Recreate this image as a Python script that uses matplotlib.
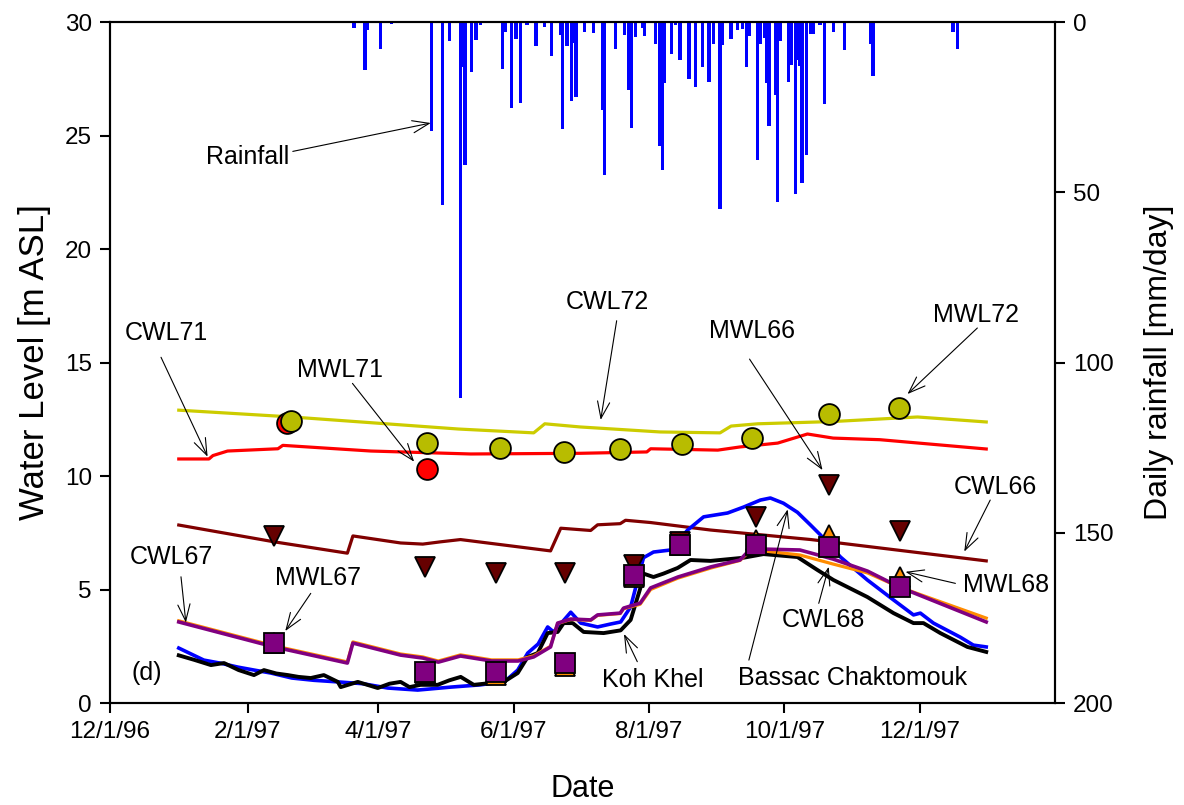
import numpy as np
import matplotlib
matplotlib.use('Agg')
import matplotlib.pyplot as plt
import matplotlib.dates as mdates
from datetime import datetime

plt.rcParams['font.family'] = ['Liberation Sans', 'DejaVu Sans']

# --- data (x as day of year 1997) ---
tick_dates = [datetime(1996, 12, 1), datetime(1997, 2, 1), datetime(1997, 4, 1),
              datetime(1997, 6, 1), datetime(1997, 8, 1), datetime(1997, 10, 1),
              datetime(1997, 12, 1)]
tick_labels = ['12/1/96', '2/1/97', '4/1/97', '6/1/97', '8/1/97', '10/1/97', '12/1/97']

rain_doy = [80, 85, 86, 92, 97, 115, 120, 123, 128, 129, 130, 133, 135, 137,
            147, 148, 151, 153, 155, 158, 162, 166, 169, 173, 174, 176, 178, 179, 180,
            184, 188, 192, 193, 198, 202, 204, 205, 207, 210, 211, 216, 218, 219, 220,
            223, 225, 227, 231, 234, 237, 240, 242, 245, 246, 250, 253, 255, 257, 258,
            262, 263, 265, 266, 267, 270, 271, 272, 276, 277, 279, 280, 281, 282, 284,
            286, 287, 290, 292, 296, 301, 313, 314, 350, 352]
rain = [1.7, 14.1, 2.3, 8.0, 0.6, 32, 53.7, 5.6, 110.3, 13.1, 42, 14.6, 5.3, 1,
        13.8, 2.8, 25.2, 5, 23.9, 1, 7, 1.5, 9.9, 3.8, 31.4, 7, 23.2, 6.2, 21.9,
        2.8, 3.2, 25.8, 45, 8, 3.8, 20, 31, 4.5, 1.7, 4, 6.6, 36.4, 43.5, 18,
        9.4, 1, 11.2, 16.8, 19, 13.1, 17.5, 6.4, 55, 6.9, 5, 2.4, 2, 13.1, 4,
        40.5, 6.6, 4.6, 18, 30.4, 21.4, 52.8, 5.5, 17.5, 12.5, 50.6, 11.3, 12.9, 47.4, 39,
        3.6, 3.5, 0.9, 24.2, 2.9, 8.2, 6.4, 16, 2.9, 8]

cwl72_doy = [1, 52, 127, 161, 166, 182, 218, 245, 250, 262, 296, 334, 365]
cwl72 = [12.9, 12.6, 12.07, 11.9, 12.3, 12.16, 11.94, 11.9, 12.2, 12.3, 12.4, 12.6, 12.38]

cwl71_doy = [1, 14.6, 16.4, 23, 45.7, 47.9, 87.6, 132.6, 182, 212, 213.7, 244, 254,
             271, 284.4, 296, 317, 365]
cwl71 = [10.75, 10.75, 10.9, 11.1, 11.2, 11.35, 11.1, 10.97, 11.0, 11.06, 11.2, 11.14, 11.28,
         11.45, 11.85, 11.67, 11.6, 11.19]

cwl66_doy = [1, 44, 77, 79.5, 101, 111, 119, 128, 168.6, 173.2, 186.7, 189.8, 200,
             202.4, 213.7, 240.7, 286, 365]
cwl66 = [7.84, 7.1, 6.6, 7.36, 7.05, 7.0, 7.1, 7.2, 6.7, 7.7, 7.6, 7.85, 7.9,
         8.05, 7.95, 7.62, 7.2, 6.26]

cwl67_doy = [1, 44, 77, 79.5, 101, 111, 118, 128, 142, 154, 161, 168.6, 171.8, 177.7,
             186.7, 189.8, 200, 201.5, 209, 213.7, 226, 241, 254, 257.4, 264.6, 281,
             296, 311.5, 326, 365]
cwl67 = [3.57, 2.47, 1.76, 2.64, 2.11, 1.98, 1.8, 2.07, 1.85, 1.85, 2.03, 2.47, 3.52, 3.7,
         3.66, 3.88, 3.96, 4.18, 4.4, 5.07, 5.55, 6.0, 6.3, 6.65, 6.78, 6.74,
         6.34, 5.81, 5.1, 3.57]

cwl68_doy = [1, 44, 77, 79.5, 101, 111, 118, 128, 142, 154, 161, 168.6, 171.8, 177.7,
             186.7, 189.8, 200, 201.5, 209, 213.7, 226, 241, 254, 257.4, 264.6, 281,
             296, 311.5, 326, 365]
cwl68 = [3.62, 2.52, 1.81, 2.69, 2.16, 2.03, 1.85, 2.12, 1.9, 1.9, 2.08, 2.5, 3.5, 3.68,
         3.64, 3.86, 3.94, 4.15, 4.35, 5.0, 5.5, 5.95, 6.28, 6.6, 6.7, 6.52,
         6.12, 5.73, 5.1, 3.74]

bassac_doy = [1, 12.3, 20, 27.7, 35, 42.5, 52, 61.9, 72.7, 84, 95.2, 108.7, 123.6, 137.1,
              148, 153.8, 158.3, 163, 167.3, 170, 177.7, 182.2, 189.8, 195.7, 200.2, 204.7,
              207.8, 210.5, 215, 222.7, 230.4, 237.6, 248.4, 255.6, 263.2, 267.7, 273.6,
              279.9, 285.8, 290.3, 299.3, 311.4, 323.2, 332.2, 335.3, 341.2, 353.3, 359.2, 365]
bassac = [2.42, 1.89, 1.75, 1.58, 1.45, 1.32, 1.1, 1.0, 0.93, 0.85, 0.66, 0.57, 0.7, 0.8,
          0.95, 1.45, 2.2, 2.6, 3.35, 3.13, 4.0, 3.52, 3.35, 3.48, 3.57, 4.23,
          5.4, 6.4, 6.65, 6.74, 7.62, 8.2, 8.37, 8.63, 8.94, 9.03, 8.8,
          8.4, 7.84, 7.4, 6.43, 5.42, 4.54, 3.88, 3.96, 3.52, 2.9, 2.55, 2.47]

kohkhel_doy = [1, 8, 15.5, 21.4, 28, 34.9, 39.4, 45, 50.2, 55, 60.5, 66.4, 72.7, 74, 81.7,
               86, 90.7, 96, 101, 105, 110, 117.7, 123, 128.1, 134, 141.6, 147.5, 153.8,
               158.3, 162.8, 167.3, 171.8, 174.5, 178.6, 183.5, 192.5, 200.2, 204.7, 209.2,
               210.5, 215, 219.5, 225.9, 231.7, 240.7, 255.6, 264.6, 279.9, 288.9, 296.1,
               311.4, 323.2, 332.2, 336.7, 344.3, 356.5, 365]
kohkhel = [2.1, 1.9, 1.67, 1.76, 1.45, 1.23, 1.45, 1.3, 1.23, 1.15, 1.1, 1.23, 0.93, 0.7,
           0.93, 0.8, 0.66, 0.85, 0.93, 0.7, 0.8, 0.8, 1.0, 1.15, 0.8, 0.88, 0.93, 1.32,
           2.03, 2.2, 3.08, 3.13, 3.52, 3.52, 3.13, 3.08, 3.2, 3.66, 5.1,
           5.7, 5.55, 5.7, 5.95, 6.3, 6.26, 6.4, 6.56, 6.43, 5.86, 5.42,
           4.67, 3.96, 3.52, 3.52, 3.08, 2.47, 2.25]

mwl_doy = [44, 112, 144, 175, 206, 227, 261, 294, 326]
mwl66 = [7.36, 6.0, 5.73, 5.73, 6.1, 7.1, 8.2, 9.6, 7.58]
mwl67 = [2.64, 1.37, 1.38, 1.76, 5.64, 6.96, 6.96, 6.87, 5.1]
mwl68 = [2.64, 1.3, 1.25, 1.62, 5.55, 6.96, 7.2, 7.4, 5.55]

mwl72_doy = [51.5, 113, 146, 174.5, 200, 228, 259.5, 294, 325.5]
mwl72 = [12.44, 11.47, 11.23, 11.07, 11.19, 11.41, 11.67, 12.73, 13.0]

mwl71_doy = [50, 113]
mwl71 = [12.32, 10.31]

# 标注: text, text pos, arrow tail, arrow tip (doy, m)
labels = [
    ('Rainfall', (31.9, 24.05), (52.4, 24.3), (114.6, 25.55)),
    ('CWL71', (-4.8, 16.3), (-7, 15.23), (14, 10.85)),
    ('MWL71', (73.6, 14.67), (79.3, 14.08), (107.1, 10.63)),
    ('CWL72', (194.3, 17.67), (198.4, 16.84), (191.2, 12.47)),
    ('MWL66', (259.6, 16.39), (258.3, 15.15), (291.2, 10.26)),
    ('MWL72', (360.5, 17.09), (361, 16.52), (329.5, 13.61)),
    ('CWL66', (369.3, 9.52), (366.8, 8.94), (355.1, 6.67)),
    ('CWL67', (-2.2, 6.43), (2, 5.56), (4.2, 3.54)),
    ('MWL67', (63.6, 5.5), (60.5, 4.83), (49, 3.17)),
    ('MWL68', (374, 5.2), (351.1, 5.27), (328.6, 5.78)),
    ('CWL68', (291.4, 3.66), (289.5, 4.39), (294, 6.0)),
    ('Koh Khel', (214.6, 1.01), (207.7, 1.82), (201.7, 3.04)),
    ('Bassac Chaktomouk', (304.9, 1.1), (258, 1.89), (275.5, 8.53)),
]

day0 = mdates.date2num(datetime(1996, 12, 31))


def d(doy):
    return day0 + np.asarray(doy, dtype=float)


fig = plt.figure(figsize=(11.84, 8.05), dpi=100)
ax = fig.add_axes([110 / 1184, 1 - 703 / 805, (1055 - 110) / 1184, (703 - 22) / 805])
ax2 = ax.twinx()
ax.set_zorder(ax2.get_zorder() + 1)
ax.patch.set_visible(False)

# 降雨柱状图（右轴，倒置）
ax2.bar(d(rain_doy), rain, width=1.5, color='#0000ff', align='center')
ax2.set_ylim(200, 0)
ax2.set_yticks([0, 50, 100, 150, 200])
ax2.set_ylabel('Daily rainfall [mm/day]', fontsize=23, labelpad=22)

lw = 2.3
ax.plot(d(cwl72_doy), cwl72, color='#cccc00', lw=lw)
ax.plot(d(cwl71_doy), cwl71, color='#ff0000', lw=lw)
ax.plot(d(cwl66_doy), cwl66, color='#800000', lw=lw)
ax.plot(d(bassac_doy), bassac, color='#0000ff', lw=lw + 0.3)
ax.plot(d(kohkhel_doy), kohkhel, color='black', lw=lw + 0.5)
ax.plot(d(cwl68_doy), cwl68, color='#ff8c00', lw=lw)
ax.plot(d(cwl67_doy), cwl67, color='#800080', lw=lw + 0.3)

mk = dict(linestyle='none', markeredgecolor='black', markeredgewidth=1.3)
ax.plot(d(mwl71_doy), mwl71, marker='o', markersize=15, markerfacecolor='#ff0000', **mk)
ax.plot(d(mwl72_doy), mwl72, marker='o', markersize=15, markerfacecolor='#b8bc00', **mk)
ax.plot(d(mwl_doy), mwl66, marker='v', markersize=14, markerfacecolor='#660000', **mk)
ax.plot(d(mwl_doy), mwl68, marker='^', markersize=14, markerfacecolor='#ff8c00', **mk)
ax.plot(d(mwl_doy), mwl67, marker='s', markersize=14, markerfacecolor='#800080', **mk)

for txt, tpos, tail, tip in labels:
    ax.text(d(tpos[0]), tpos[1], txt, fontsize=18, ha='center', va='center')
    ax.annotate('', xy=(d(tip[0]), tip[1]), xytext=(d(tail[0]), tail[1]),
                arrowprops=dict(arrowstyle='->,head_length=0.6,head_width=0.22',
                                lw=0.8, color='black', mutation_scale=20,
                                shrinkA=0, shrinkB=0))
ax.text(d(-13.4), 1.32, '(d)', fontsize=18, ha='center', va='center')

ax.set_xlim(mdates.date2num(datetime(1996, 12, 1)), mdates.date2num(datetime(1998, 1, 31)))
ax.set_ylim(0, 30)
ax.set_yticks([0, 5, 10, 15, 20, 25, 30])
ax.set_xticks(mdates.date2num(tick_dates))
ax.set_xticklabels(tick_labels)
ax.set_xlabel('Date', fontsize=22, labelpad=22)
ax.set_ylabel('Water Level [m ASL]', fontsize=25, labelpad=10)

for a in (ax, ax2):
    a.tick_params(direction='out', length=7, width=1.5, labelsize=17.5, pad=6)
    for s in a.spines.values():
        s.set_linewidth(1.5)

fig.savefig('out.png', dpi=100)
